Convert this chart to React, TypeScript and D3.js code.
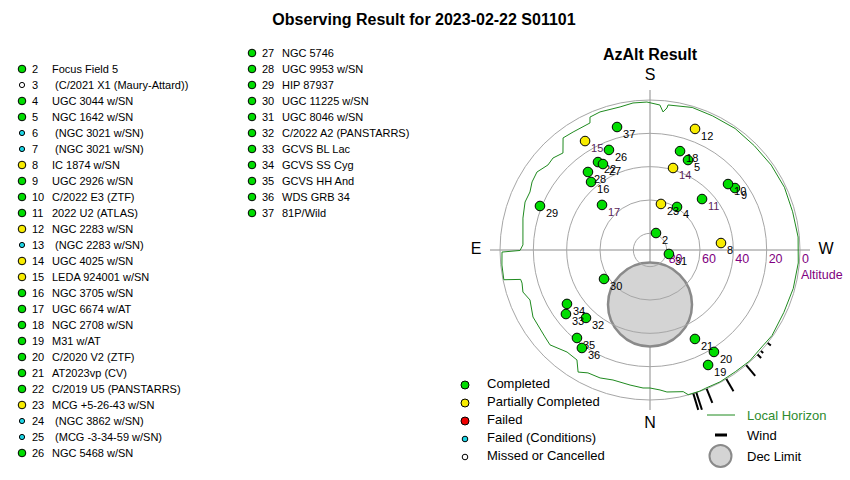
import * as d3 from "d3";

// observing list (id / name / status)
// status: C completed, P partially, F failed, FC failed (conditions), M missed or cancelled
const targetIds = [2, 3, 4, 5, 6, 7, 8, 9, 10, 11, 12, 13, 14, 15, 16, 17, 18, 19, 20, 21, 22, 23, 24, 25, 26,
  27, 28, 29, 30, 31, 32, 33, 34, 35, 36, 37];
const targetNames = [
  "Focus Field 5", " (C/2021 X1 (Maury-Attard))", "UGC 3044 w/SN", "NGC 1642 w/SN", " (NGC 3021 w/SN)",
  " (NGC 3021 w/SN)", "IC 1874 w/SN", "UGC 2926 w/SN", "C/2022 E3 (ZTF)", "2022 U2 (ATLAS)", "NGC 2283 w/SN",
  " (NGC 2283 w/SN)", "UGC 4025 w/SN", "LEDA 924001 w/SN", "NGC 3705 w/SN", "UGC 6674 w/AT", "NGC 2708 w/SN",
  "M31 w/AT", "C/2020 V2 (ZTF)", "AT2023vp (CV)", "C/2019 U5 (PANSTARRS)", "MCG +5-26-43 w/SN",
  " (NGC 3862 w/SN)", " (MCG -3-34-59 w/SN)", "NGC 5468 w/SN",
  "NGC 5746", "UGC 9953 w/SN", "HIP 87937", "UGC 11225 w/SN", "UGC 8046 w/SN", "C/2022 A2 (PANSTARRS)",
  "GCVS BL Lac", "GCVS SS Cyg", "GCVS HH And", "WDS GRB 34", "81P/Wild",
];
const targetStatus = [
  "C", "M", "C", "C", "FC", "FC", "P", "C", "C", "C", "P", "FC", "P", "P", "C", "C", "C", "C", "C", "C", "C", "P",
  "FC", "FC", "C", "C", "C", "C", "C", "C", "C", "C", "C", "C", "C", "C",
];
const firstColumnCount = 25;

// observed positions [id, azimuth (deg from N through E), altitude (deg)]
const observed: [number, number, number][] = [
  [2, 199.4, 79.2], [4, 212.1, 59.5], [5, 202.9, 31.4], [8, 264.4, 47.2], [9, 233.9, 26.9], [10, 229.8, 28.7],
  [11, 225.6, 46.3], [12, 200.4, 12.5], [14, 195.7, 38.9], [15, 149.2, 13.9], [16, 139.1, 36.0], [17, 133.2, 50.5],
  [18, 196.9, 28.0], [19, 333.2, 12.7], [20, 327.9, 17.8], [21, 333.2, 30.2], [22, 149.4, 28.7], [23, 193.4, 61.6],
  [26, 157.7, 25.1], [27, 151.3, 31.2], [28, 141.5, 30.2], [29, 111.8, 18.9], [30, 57.8, 57.4], [31, 281.9, 78.4],
  [32, 43.3, 34.0], [33, 52.7, 26.6], [34, 57.0, 30.6], [35, 39.7, 21.4], [36, 34.8, 18.4], [37, 165.0, 13.6],
];
const dimLabels = [11, 14, 15, 17];

// local horizon [azimuth, altitude]
const horizon: [number, number][] = [
  [0, 7.2], [2.9, 7.1], [8.4, 8.1], [15.9, 8.9], [21.3, 7.6], [26.8, 7.4], [30.5, 5.0], [33.6, 10.8], [39.1, 11.1],
  [46.5, 7.3], [50.4, 8.2], [60.2, 9.1], [67.4, 12.0], [71.7, 9.7], [75.5, 10.7], [77.2, 10.4], [78.5, 0.5],
  [84.2, 0.7], [89.2, 1.2], [89.8, 12.0], [92.3, 13.7], [104.1, 11.4], [111.0, 9.7], [115.8, 10.0], [120.0, 8.3],
  [124.6, 7.6], [129.8, 10.3], [133.5, 9.8], [138.1, 11.8], [142.2, 4.9], [146.9, 5.5], [154.7, 5.7], [155.7, 2.5],
  [160.1, 1.9], [168.2, 2.3], [173.4, 1.2], [178.8, 1.2], [183.9, 2.8], [185.4, 6.8], [186.8, 4.2], [187.1, 2.3],
  [196.5, 0.8], [205, 1.2], [215, 1.0], [225, 1.5], [235, 1.2], [245, 1.0], [255, 1.4], [265, 0.8], [275, 0.7],
  [285, 1.0], [295, 1.4], [305, 0.6], [312, 1.2], [318, 0.5], [325, 0.8], [332, 0.4], [338, 0.6], [340.6, 0.2],
  [345.2, 0.2], [346.8, 2.7], [353.2, 4.2], [355.9, 5.8],
];

// wind marks [azimuth, speed]
const wind: [number, number][] = [
  [342.0, 18], [343.2, 17], [337.8, 15], [329.4, 14], [320.1, 14], [314.2, 5], [312.3, 3], [308.3, 4],
];

// declination limit circle: centre [az, alt], radius (deg)
const decLimitCentre: [number, number] = [0, 57.3];
const decLimitRadius = 25.2;

const altRings = [80, 60, 40, 20, 0];

const statusLabels = ["Completed", "Partially Completed", "Failed", "Failed (Conditions)", "Missed or Cancelled"];
const statusKeys = ["C", "P", "F", "FC", "M"];

const statusFill: Record<string, string> = { C: "#00dd00", P: "#f8ec00", F: "#ee0000", FC: "#1ed6e6", M: "#ffffff" };
const statusR: Record<string, number> = { C: 3.8, P: 3.8, F: 3.8, FC: 2.6, M: 2.6 };

const CX = 650, CY = 250, R = 150;
const rScale = d3.scaleLinear().domain([90, 0]).range([0, R]);
const toAngle = (az: number) => ((az + 180) * Math.PI) / 180;
const proj = (az: number, alt: number) => {
  const [x, y] = d3.pointRadial(toAngle(az), rScale(alt));
  return [CX + x, CY + y];
};

const horizonLine = d3
  .lineRadial<[number, number]>()
  .angle(d => toAngle(d[0]))
  .radius(d => rScale(d[1]))
  .curve(d3.curveLinearClosed);

const FONT = "'Liberation Sans', Arial, sans-serif";

export default function App() {
  const statusOf = (id: number) => targetStatus[targetIds.indexOf(id)];
  const [dcx, dcy] = proj(decLimitCentre[0], decLimitCentre[1]);
  const decR = rScale(90 - decLimitRadius);

  return (
    <svg
      width={850}
      height={480}
      style={{ position: "absolute", left: 0, top: 0, background: "#fff" }}
      fontFamily={FONT}
    >
      <text x={424} y={24.5} textAnchor="middle" fontSize={16} fontWeight="bold">
        Observing Result for 2023-02-22 S01101
      </text>

      {/* target list */}
      {targetIds.map((id, i) => {
        const col = i < firstColumnCount ? 0 : 1;
        const row = col === 0 ? i : i - firstColumnCount;
        const y = (col === 0 ? 69 : 53) + row * 16;
        const x0 = col === 0 ? 22 : 252;
        const st = targetStatus[i];
        return (
          <g key={id}>
            <circle cx={x0} cy={y} r={statusR[st]} fill={statusFill[st]} stroke="#000" strokeWidth={1} />
            <text x={x0 + 10} y={y} dy="0.36em" fontSize={11}>
              {id}
            </text>
            <text x={x0 + 30} y={y} dy="0.36em" fontSize={11} style={{ whiteSpace: "pre" }}>
              {targetNames[i]}
            </text>
          </g>
        );
      })}

      {/* AzAlt plot */}
      <text x={CX} y={60} textAnchor="middle" fontSize={16} fontWeight="bold">
        AzAlt Result
      </text>
      <line x1={CX} x2={CX} y1={CY - 160} y2={CY + 160} stroke="#8c8c8c" />
      <line x1={CX - 160} x2={CX + 160} y1={CY} y2={CY} stroke="#8c8c8c" />
      <circle cx={dcx} cy={dcy} r={decR} fill="#d4d4d4" stroke="#8a8a8a" strokeWidth={2.5} />
      {altRings.map(a => (
        <circle key={a} cx={CX} cy={CY} r={rScale(a)} fill="none" stroke="#a6a6a6" />
      ))}
      {altRings.map(a => (
        <text key={"t" + a} x={CX + rScale(a) + 2} y={CY + 13} fontSize={12.5} fill="#800080">
          {a}
        </text>
      ))}
      <text x={801} y={279} fontSize={12.5} fill="#800080">
        Altitude
      </text>
      <text x={CX} y={80} textAnchor="middle" fontSize={16}>S</text>
      <text x={CX} y={428} textAnchor="middle" fontSize={16}>N</text>
      <text x={476} y={254} textAnchor="middle" fontSize={16}>E</text>
      <text x={826} y={254} textAnchor="middle" fontSize={16}>W</text>

      <path d={horizonLine(horizon) ?? ""} transform={`translate(${CX},${CY})`} fill="none" stroke="#1f8a1f" strokeWidth={1} />

      {wind.map(([az, sp], i) => {
        const [x1, y1] = d3.pointRadial(toAngle(az), R);
        const [x2, y2] = d3.pointRadial(toAngle(az), R + sp);
        return <line key={i} x1={CX + x1} y1={CY + y1} x2={CX + x2} y2={CY + y2} stroke="#000" strokeWidth={2} />;
      })}

      {observed.map(([id, az, alt]) => {
        const [x, y] = proj(az, alt);
        const st = statusOf(id);
        return (
          <g key={id}>
            <circle cx={x} cy={y} r={4.8} fill={statusFill[st]} stroke="#000" strokeWidth={1} />
            <text x={x + 6} y={y + 11} fontSize={11} fill={dimLabels.includes(id) ? "#5a1f5a" : "#000"}>
              {id}
            </text>
          </g>
        );
      })}

      {/* status legend */}
      {statusKeys.map((k, i) => (
        <g key={k}>
          <circle cx={465} cy={385 + i * 18} r={k === "FC" || k === "M" ? 2.8 : 4} fill={statusFill[k]} stroke="#000" />
          <text x={487} y={383.5 + i * 18} dy="0.36em" fontSize={13}>
            {statusLabels[i]}
          </text>
        </g>
      ))}

      {/* symbol legend */}
      <line x1={707} x2={735} y1={415} y2={415} stroke="#1f8a1f" />
      <text x={747} y={415} dy="0.36em" fontSize={13} fill="#2e8b2e">
        Local Horizon
      </text>
      <line x1={715} x2={727} y1={435} y2={435} stroke="#000" strokeWidth={3} />
      <text x={747} y={435} dy="0.36em" fontSize={13}>
        Wind
      </text>
      <circle cx={720.5} cy={456} r={11} fill="#d4d4d4" stroke="#8a8a8a" strokeWidth={2} />
      <text x={747} y={456} dy="0.36em" fontSize={13}>
        Dec Limit
      </text>
    </svg>
  );
}
